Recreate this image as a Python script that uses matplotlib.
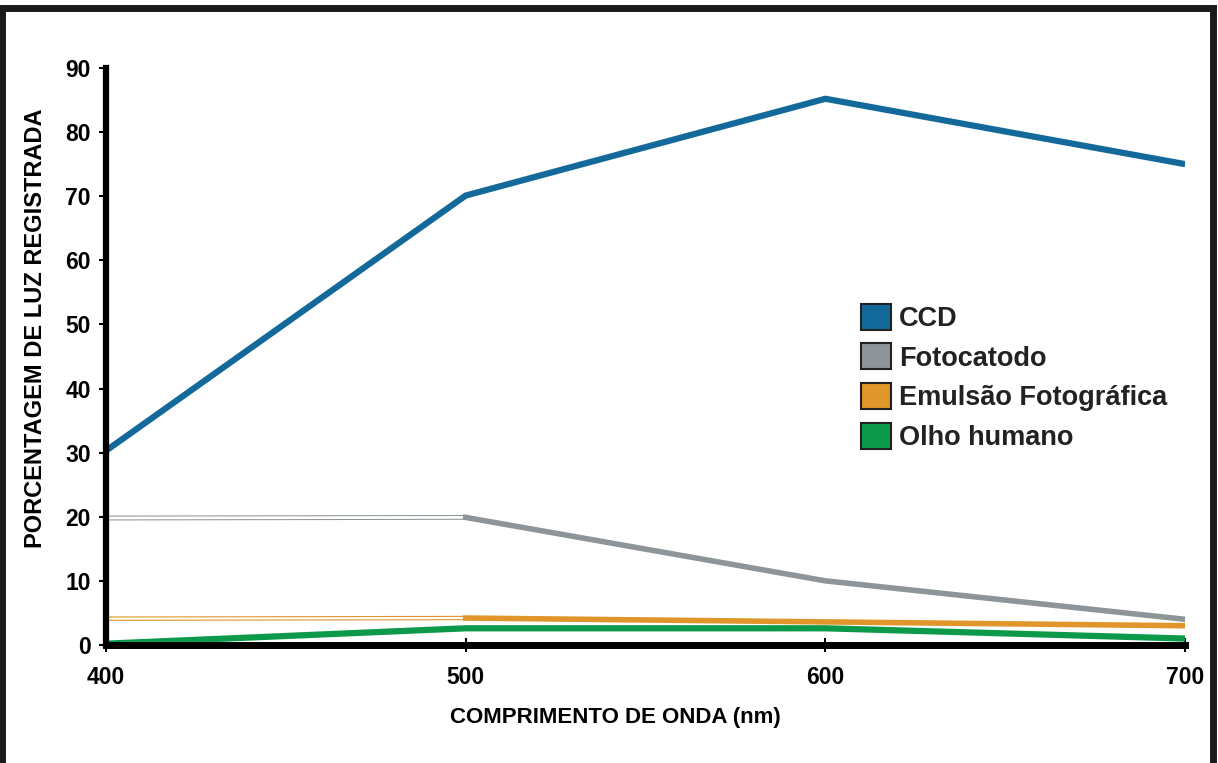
import matplotlib.pyplot as plt
from matplotlib.patches import Rectangle, Patch

wavelength = [400, 500, 600, 700]
ccd = [30.3, 70.1, 85.2, 75.0]
fotocatodo = [19.8, 19.9, 10.0, 4.0]
emulsao = [4.1, 4.2, 3.6, 3.0]
olho = [0.2, 2.6, 2.6, 1.0]

labels = ["CCD", "Fotocatodo", "Emulsão Fotográfica", "Olho humano"]
colors = ["#13699a", "#8e9599", "#e0962a", "#0c9a4a"]

plt.rcParams['font.family'] = ['Liberation Sans', 'DejaVu Sans']

fig = plt.figure(figsize=(12.18, 7.63), dpi=100)
ax = fig.add_axes([0.087, 0.1547, 0.886, 0.7562])

ax.plot(wavelength, ccd, color=colors[0], lw=4.5, solid_capstyle='butt', zorder=5)

# first segments drawn hollow, as in the original
ax.plot(wavelength[:2], fotocatodo[:2], color=colors[1], lw=3.5, solid_capstyle='butt', zorder=4)
ax.plot(wavelength[:2], fotocatodo[:2], color='white', lw=2, solid_capstyle='butt', zorder=4)
ax.plot(wavelength[1:], fotocatodo[1:], color=colors[1], lw=4, zorder=4)

ax.plot(wavelength[:2], emulsao[:2], color=colors[2], lw=3.2, solid_capstyle='butt', zorder=3)
ax.plot(wavelength[:2], emulsao[:2], color='white', lw=1.6, solid_capstyle='butt', zorder=3)
ax.plot(wavelength[1:], emulsao[1:], color=colors[2], lw=4, zorder=3)

ax.plot(wavelength, olho, color=colors[3], lw=4.5, solid_capstyle='butt', zorder=3)

ax.set_xlim(400, 700)
ax.set_ylim(0, 90)
ax.set_xticks(wavelength)
ax.set_yticks(range(0, 91, 10))
ax.spines['top'].set_visible(False)
ax.spines['right'].set_visible(False)
ax.spines['left'].set_linewidth(4.5)
ax.spines['bottom'].set_linewidth(5)
ax.spines['left'].set_zorder(10)
ax.spines['bottom'].set_zorder(10)
ax.tick_params(axis='y', direction='out', length=5, width=1.5, pad=6)
ax.tick_params(axis='x', direction='inout', length=10, width=1.5, pad=10)
for lab in ax.get_xticklabels() + ax.get_yticklabels():
    lab.set_fontsize(16.5)
    lab.set_fontweight('bold')

fig.text(0.505, 0.06, "COMPRIMENTO DE ONDA (nm)", ha='center', va='center',
         fontsize=16, fontweight='bold')
fig.text(0.029, 0.57, "PORCENTAGEM DE LUZ REGISTRADA", ha='center', va='center',
         rotation=90, fontsize=17, fontweight='bold')

handles = [Patch(facecolor=c, edgecolor='#222222', lw=1.5) for c in colors]
leg = ax.legend(handles, labels, loc='upper left', bbox_to_anchor=(0.69, 0.61),
                frameon=False, handlelength=1.1, handleheight=1.1,
                handletextpad=0.3, labelspacing=0.42, borderaxespad=0,
                prop={'size': 19.5, 'weight': 'bold'})
for t in leg.get_texts():
    t.set_color('#222222')

fig.patches.append(Rectangle((0.002, -0.01), 0.994, 1.0, transform=fig.transFigure,
                             fill=False, edgecolor='#1a1a1a', lw=5, zorder=20))

fig.savefig("out.png", dpi=100)
